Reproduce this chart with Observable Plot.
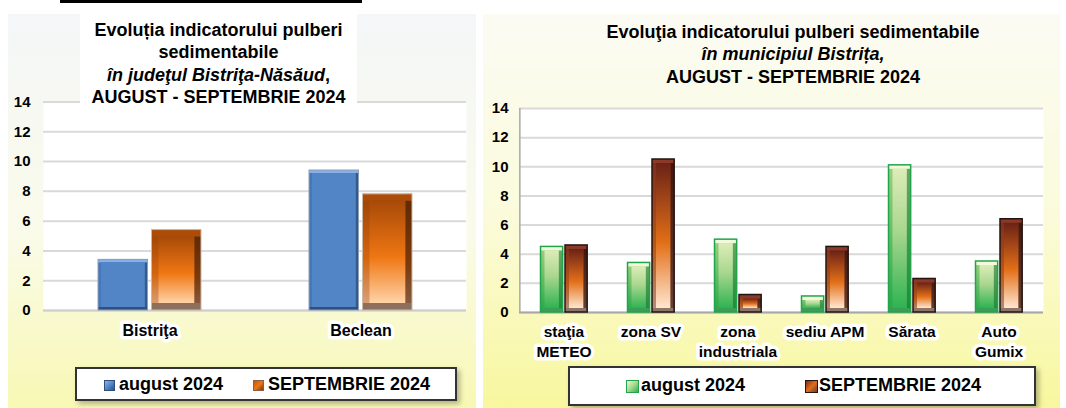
<!DOCTYPE html>
<html><head><meta charset="utf-8">
<script src="https://cdn.jsdelivr.net/npm/d3@7"></script>
<script src="https://cdn.jsdelivr.net/npm/@observablehq/plot@0.6"></script>
<style>
html,body{margin:0;padding:0;background:#fff;}
body{width:1066px;height:408px;position:relative;overflow:hidden;font-family:"Liberation Sans",Arial,sans-serif;color:#000;}
.panel{position:absolute;top:14px;height:394px;}
#leftPanel{left:8px;width:468px;background:linear-gradient(to bottom,#f4f6f8 0%,#fafbea 55%,#f8f8b4 100%);}
#rightPanel{left:483px;width:577px;background:linear-gradient(to bottom,#fbfbf4 0%,#fbfbdc 50%,#f8f79e 100%);}
.chart{position:absolute;}
.title{position:absolute;text-align:center;font-weight:bold;font-size:18px;line-height:22.5px;box-sizing:border-box;}
.legend{position:absolute;background:#fff;border:2px solid #333;box-shadow:3px 3px 5px rgba(0,0,0,.28);box-sizing:border-box;}
.item{position:absolute;top:0;font-weight:bold;font-size:18px;white-space:nowrap;}
.sw{position:absolute;box-sizing:border-box;}
</style>
</head>
<body>
<svg width="0" height="0" style="position:absolute;left:0;top:0">
  <defs>
    <linearGradient id="orFace" x1="0" y1="0" x2="0" y2="1">
      <stop offset="0" stop-color="#a84a08"/><stop offset="0.55" stop-color="#ef7613"/><stop offset="1" stop-color="#ffd3a6"/>
    </linearGradient>
    <linearGradient id="orSide" x1="0" y1="0" x2="0" y2="1">
      <stop offset="0" stop-color="#9a4306"/><stop offset="0.55" stop-color="#d4650f"/><stop offset="1" stop-color="#d9a987"/>
    </linearGradient>
    <linearGradient id="orSideR" x1="0" y1="0" x2="0" y2="1">
      <stop offset="0" stop-color="#5c2804"/><stop offset="0.6" stop-color="#7a3a0c"/><stop offset="1" stop-color="#8a6048"/>
    </linearGradient>
    <linearGradient id="grFace" x1="0" y1="0" x2="0" y2="1">
      <stop offset="0" stop-color="#dcecb8"/><stop offset="0.45" stop-color="#a9d78f"/><stop offset="1" stop-color="#2fb352"/>
    </linearGradient>
    <linearGradient id="grSide" x1="0" y1="0" x2="0" y2="1">
      <stop offset="0" stop-color="#9fd080"/><stop offset="1" stop-color="#26a848"/>
    </linearGradient>
    <linearGradient id="grSideR" x1="0" y1="0" x2="0" y2="1">
      <stop offset="0" stop-color="#6aa868"/><stop offset="1" stop-color="#1e8a3a"/>
    </linearGradient>
    <linearGradient id="brFace" x1="0" y1="0" x2="0" y2="1">
      <stop offset="0" stop-color="#6b2216"/><stop offset="0.55" stop-color="#e26f18"/><stop offset="1" stop-color="#ffe6d0"/>
    </linearGradient>
    <linearGradient id="brSide" x1="0" y1="0" x2="0" y2="1">
      <stop offset="0" stop-color="#7a2c1c"/><stop offset="0.6" stop-color="#b85a1a"/><stop offset="1" stop-color="#b09080"/>
    </linearGradient>
    <linearGradient id="brSideR" x1="0" y1="0" x2="0" y2="1">
      <stop offset="0" stop-color="#40140c"/><stop offset="1" stop-color="#6a4030"/>
    </linearGradient>
  </defs>
</svg>

<div style="position:absolute;left:60px;top:0;width:302px;height:3px;background:#000"></div>

<div class="panel" id="leftPanel"></div>
<div class="panel" id="rightPanel"></div>

<div class="chart" id="leftChart" style="left:8px;top:90px;"></div>
<div class="chart" id="rightChart" style="left:483px;top:95px;"></div>

<div class="title" style="left:80px;top:14px;width:277px;height:90px;padding-top:4.5px;background:#fff;">
  Evoluția indicatorului pulberi<br>sedimentabile<br><i>în judeţul Bistriţa-Năsăud</i>,<br>AUGUST - SEPTEMBRIE 2024
</div>
<div class="title" style="left:483px;top:20.75px;width:620px;">
  Evoluţia indicatorului pulberi sedimentabile<br><i>în municipiul Bistrița,</i><br>AUGUST - SEPTEMBRIE 2024
</div>

<div class="legend" id="leftLegend" style="left:75px;top:367px;width:382px;height:34px;"></div>
<div class="legend" id="rightLegend" style="left:568px;top:366px;width:468px;height:40px;"></div>

<script>
// ---- data ----
const leftCategories = ["Bistriţa", "Beclean"];
const leftAugust = [3.4, 9.4];
const leftSeptember = [5.4, 7.8];

const rightCategories = ["staţia METEO", "zona SV", "zona industriala", "sediu APM", "Sărata", "Auto Gumix"];
const rightTickLabels = ["staţia\nMETEO", "zona SV", "zona\nindustriala", "sediu APM", "Sărata", "Auto\nGumix"];
const rightAugust = [4.5, 3.4, 5.0, 1.1, 10.1, 3.5];
const rightSeptember = [4.6, 10.5, 1.2, 4.5, 2.3, 6.4];

const yTicks = [0, 2, 4, 6, 8, 10, 12, 14];
const seriesNames = ["august 2024", "SEPTEMBRIE 2024"];

// ---- styles ----
const FONT = '"Liberation Sans", Arial, sans-serif';
const STY = {
  blue:   {bev: 3, sw: 1,   stroke: "#8d9fb6", side: "#4677b8", sideR: "#34598c", top: "#86b0e6", bottom: "#2f4f7c", face: "#5185c6"},
  orange: {bev: 7, sw: 1,   stroke: "#cbb9a8", side: "url(#orSide)", sideR: "url(#orSideR)", top: "#ab4c08", bottom: "#8d6f5b", face: "url(#orFace)"},
  green:  {bev: 4, sw: 1.5, stroke: "#22a54a", side: "url(#grSide)", sideR: "url(#grSideR)", top: "#f2f9da", bottom: "#3a9e55", face: "url(#grFace)"},
  brown:  {bev: 4, sw: 1.5, stroke: "#241410", side: "url(#brSide)", sideR: "url(#brSideR)", top: "#8c3a28", bottom: "#8f7565", face: "url(#brFace)"}
};

function rows(cats, vals) { return cats.map((c, i) => ({cat: c, v: vals[i]})); }

function bevelBars(data, step, left, width, s) {
  const right = step - left - width;
  const b = s.bev;
  return [
    Plot.barY(data, {x: "cat", y: "v", insetLeft: left, insetRight: right, fill: s.side}),
    Plot.barY(data, {x: "cat", y: "v", insetLeft: left + width - b, insetRight: right, fill: s.sideR}),
    Plot.barY(data, {x: "cat", y1: "v", y2: "v", insetBottom: -b, insetLeft: left, insetRight: right, fill: s.top}),
    Plot.barY(data, {x: "cat", y1: 0, y2: 0, insetTop: -b, insetLeft: left, insetRight: right, fill: s.bottom}),
    Plot.barY(data, {x: "cat", y: "v", insetLeft: left + b, insetRight: right + b, insetTop: b, insetBottom: b, fill: s.face}),
    Plot.barY(data, {x: "cat", y: "v", insetLeft: left, insetRight: right, fill: "none", stroke: s.stroke, strokeWidth: s.sw})
  ];
}

const svgStyle = {background: "transparent", overflow: "visible", fontFamily: FONT, fontWeight: "bold", fontSize: "15px", color: "#000"};

// ---- left chart ----
{
  const W = 468, mL = 35, mR = 10;
  const step = (W - mL - mR) / leftCategories.length;
  const chart = Plot.plot({
    width: W, height: 260,
    marginLeft: mL, marginRight: mR, marginTop: 11.5, marginBottom: 40,
    style: svgStyle,
    x: {type: "band", domain: leftCategories, padding: 0},
    y: {domain: [yTicks[0], yTicks[yTicks.length - 1]]},
    marks: [
      Plot.frame({fill: "white"}),
      Plot.gridY(yTicks, {stroke: "#d9d9d9", strokeOpacity: 1, strokeWidth: 2}),
      Plot.ruleY([0], {stroke: "#cfcfcf", strokeWidth: 2}),
      ...bevelBars(rows(leftCategories, leftAugust), step, 54, 50, STY.blue),
      ...bevelBars(rows(leftCategories, leftSeptember), step, 107.5, 50, STY.orange),
      Plot.axisY(yTicks, {tickSize: 0, tickPadding: 13, label: null, fontSize: 15, fontWeight: "bold"}),
      Plot.axisX({tickSize: 0, tickPadding: 14, label: null, fontSize: 16, fontWeight: "bold", textStroke: "white", textStrokeWidth: 7})
    ]
  });
  document.getElementById("leftChart").append(chart);
}

// ---- right chart ----
{
  const W = 577, mL = 36, mR = 17;
  const step = (W - mL - mR) / rightCategories.length;
  const chart = Plot.plot({
    width: W, height: 265,
    marginLeft: mL, marginRight: mR, marginTop: 13, marginBottom: 48,
    style: svgStyle,
    x: {type: "band", domain: rightCategories, padding: 0},
    y: {domain: [yTicks[0], yTicks[yTicks.length - 1]]},
    marks: [
      Plot.frame({fill: "white"}),
      Plot.gridY(yTicks, {stroke: "#d9d9d9", strokeOpacity: 1, strokeWidth: 2}),
      Plot.ruleY([0], {stroke: "#a8a8a8", strokeWidth: 2}),
      Plot.barY([{cat: rightCategories[0]}], {x: "cat", y1: yTicks[0], y2: yTicks[yTicks.length - 1], insetLeft: -1, insetRight: step - 1, fill: "#b0b0b0"}),
      ...bevelBars(rows(rightCategories, rightAugust), step, 20.5, 22.5, STY.green),
      ...bevelBars(rows(rightCategories, rightSeptember), step, 45, 22.5, STY.brown),
      Plot.axisY(yTicks, {tickSize: 0, tickPadding: 11, label: null, fontSize: 15, fontWeight: "bold"}),
      Plot.axisX({tickSize: 0, tickPadding: 11, label: null, fontSize: 15.5, fontWeight: "bold", lineHeight: 1.25,
        tickFormat: (d) => rightTickLabels[rightCategories.indexOf(d)], textStroke: "white", textStrokeWidth: 7})
    ]
  });
  document.getElementById("rightChart").append(chart);
}

// ---- legends ----
function legend(id, items) {
  const el = document.getElementById(id);
  for (const it of items) {
    const sw = document.createElement("div");
    sw.className = "sw";
    Object.assign(sw.style, {left: it.sx + "px", top: it.sy + "px", width: it.ss + "px", height: it.ss + "px", background: it.bg, border: "1px solid " + it.bd});
    el.append(sw);
    const t = document.createElement("div");
    t.className = "item";
    t.textContent = it.name;
    Object.assign(t.style, {left: it.tx + "px", lineHeight: it.lh + "px"});
    el.append(t);
  }
}
legend("leftLegend", [
  {name: seriesNames[0], sx: 27, sy: 11, ss: 11, tx: 42, lh: 30, bg: "linear-gradient(135deg,#8ab3e8,#4f81c4 55%,#2f5080)", bd: "#2f4f7a"},
  {name: seriesNames[1], sx: 176, sy: 11, ss: 11, tx: 191, lh: 30, bg: "linear-gradient(135deg,#c05a10,#ef7613 50%,#7a3a0c)", bd: "#8a6048"}
]);
legend("rightLegend", [
  {name: seriesNames[0], sx: 56, sy: 12, ss: 13, tx: 71, lh: 34, bg: "linear-gradient(135deg,#eef7d0,#a9d78f 50%,#2fb352)", bd: "#22a54a"},
  {name: seriesNames[1], sx: 235, sy: 12, ss: 13, tx: 249, lh: 34, bg: "linear-gradient(135deg,#7a2c1c,#e26f18 50%,#6a4030)", bd: "#241410"}
]);
</script>
</body></html>
